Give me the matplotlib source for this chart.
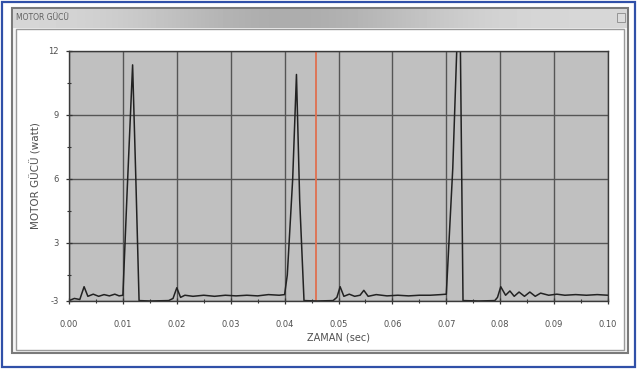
import matplotlib
matplotlib.use("Agg")
import matplotlib.pyplot as plt
from matplotlib.patches import Rectangle
from matplotlib.ticker import MultipleLocator
import numpy as np

# ---- data ----
time_s = [0.0000, 0.0010, 0.0020, 0.0028, 0.0035, 0.0045, 0.0055, 0.0065, 0.0075, 0.0085,
          0.0093, 0.0100, 0.0108, 0.0118, 0.0124, 0.0130, 0.0150, 0.0185, 0.0193, 0.0200,
          0.0207, 0.0215, 0.0230, 0.0250, 0.0270, 0.0290, 0.0310, 0.0330, 0.0350, 0.0370,
          0.0390, 0.0400, 0.0405, 0.0415, 0.0422, 0.0428, 0.0436, 0.0460, 0.0490, 0.0497,
          0.0503, 0.0510, 0.0520, 0.0530, 0.0540, 0.0547, 0.0555, 0.0570, 0.0590, 0.0610,
          0.0630, 0.0650, 0.0670, 0.0690, 0.0700, 0.0712, 0.0720, 0.0726, 0.0731, 0.0760,
          0.0790, 0.0795, 0.0801, 0.0810, 0.0818, 0.0826, 0.0835, 0.0845, 0.0855, 0.0865,
          0.0875, 0.0890, 0.0905, 0.0920, 0.0940, 0.0960, 0.0980, 0.1000]
power_w = [0.30, 0.40, 0.35, 0.95, 0.50, 0.60, 0.50, 0.58, 0.52, 0.60,
           0.52, 0.55, 5.50, 11.35, 6.00, 0.30, 0.28, 0.30, 0.40, 0.90,
           0.45, 0.55, 0.50, 0.55, 0.50, 0.55, 0.52, 0.55, 0.52, 0.58,
           0.55, 0.58, 1.50, 6.00, 10.90, 5.00, 0.30, 0.28, 0.30, 0.45,
           0.95, 0.50, 0.60, 0.50, 0.55, 0.78, 0.50, 0.58, 0.52, 0.55,
           0.52, 0.55, 0.55, 0.58, 0.60, 6.50, 12.50, 12.50, 0.30, 0.28,
           0.30, 0.45, 0.95, 0.55, 0.75, 0.50, 0.70, 0.50, 0.70, 0.50,
           0.65, 0.55, 0.60, 0.55, 0.58, 0.55, 0.58, 0.55]
cursor_time = 0.0459
x_ticks = [0.00, 0.01, 0.02, 0.03, 0.04, 0.05, 0.06, 0.07, 0.08, 0.09, 0.10]
y_ticks = [0.28, 3, 6, 9, 12]
y_tick_labels = ["-3", "3", "6", "9", "12"]

W, H = 637, 369
fig = plt.figure(figsize=(W / 100, H / 100), dpi=100)
fig.patch.set_facecolor("white")

# background axes in pixel coordinates (y downward) for window decoration
bg = fig.add_axes([0, 0, 1, 1], zorder=-10)
bg.set_axis_off()

def rect(x, y, w, h, **kw):
    bg.add_patch(Rectangle((x, y), w, h, **kw))

rect(2, 2, 633, 365, facecolor="white", edgecolor="#3050a8", lw=1.6)
rect(12, 8, 616, 345, facecolor="#f6f6f6", edgecolor="#7a7a7a", lw=1.5)
grad = np.array([[0.84, 0.80, 0.72, 0.66, 0.70, 0.78, 0.84, 0.84]])
bg.imshow(grad, cmap="gray", vmin=0, vmax=1, aspect="auto",
          extent=[13, 627, 28, 9], interpolation="bicubic", zorder=2)
bg.text(16, 18, "MOTOR GÜCÜ", fontsize=5.5, color="#606060", va="center", ha="left", zorder=3)
rect(617, 13, 8, 9, facecolor="#dcdcdc", edgecolor="#8a8a8a", lw=0.6, zorder=3)
rect(16, 29, 608, 321, facecolor="white", edgecolor="#9a9a9a", lw=1.0, zorder=3)
bg.set_xlim(0, W)
bg.set_ylim(H, 0)

# main axes
ax = fig.add_axes([69 / W, 1 - 301 / H, (608 - 69) / W, (301 - 51) / H])
ax.set_facecolor("#c0c0c0")
ax.set_xlim(0, 0.10)
ax.set_ylim(y_ticks[0], 12)
ax.set_xticks(x_ticks)
ax.set_xticklabels([f"{v:.2f}" for v in x_ticks])
ax.set_yticks(y_ticks)
ax.set_yticklabels(y_tick_labels)
ax.xaxis.set_minor_locator(MultipleLocator(0.005))
ax.yaxis.set_minor_locator(MultipleLocator(1.5))
ax.grid(True, which="major", color="#555555", lw=1.0)
ax.set_axisbelow(True)
for s in ax.spines.values():
    s.set_color("#3a3a3a")
    s.set_linewidth(1.0)
ax.tick_params(which="major", direction="inout", length=5, width=0.9, color="#333333",
               labelsize=6, labelcolor="#505050", pad=5)
ax.tick_params(axis="x", which="major", pad=11)
ax.tick_params(which="minor", direction="inout", length=3, width=0.8, color="#333333")

ax.axvline(cursor_time, color="#e07050", lw=1.3)
ax.plot(time_s, power_w, color="#222222", lw=1.1)

ax.set_ylabel("MOTOR GÜCÜ (watt)", fontsize=7.5, color="#505050", labelpad=5)
ax.set_xlabel("ZAMAN (sec)", fontsize=7, color="#505050", labelpad=3)

fig.savefig("out.png", dpi=100, facecolor=fig.get_facecolor())
